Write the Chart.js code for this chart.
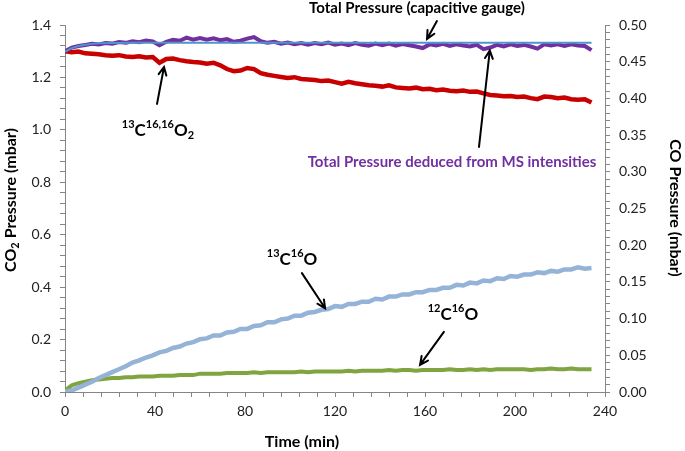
<!DOCTYPE html>
<html>
<head>
<meta charset="utf-8">
<script src="https://cdn.jsdelivr.net/npm/chart.js@4.4.1/dist/chart.umd.min.js"></script>
<style>
  html, body { margin: 0; padding: 0; background: #fff; }
  #wrap { width: 685px; height: 451px; position: relative; }
</style>
</head>
<body>
<div id="wrap"><canvas id="myChart"></canvas></div>
<script>
// time axis (min), sampled every 3 min
const timeMin = [
  0, 3, 6, 9, 12, 15, 18, 21, 24, 27,
  30, 33, 36, 39, 42, 45, 48, 51, 54, 57,
  60, 63, 66, 69, 72, 75, 78, 81, 84, 87,
  90, 93, 96, 99, 102, 105, 108, 111, 114, 117,
  120, 123, 126, 129, 132, 135, 138, 141, 144, 147,
  150, 153, 156, 159, 162, 165, 168, 171, 174, 177,
  180, 183, 186, 189, 192, 195, 198, 201, 204, 207,
  210, 213, 216, 219, 222, 225, 228, 231, 234
];

// 13C16,16O2 (left axis, mbar)
const co2Values = [
  1.300, 1.296, 1.299, 1.292, 1.290, 1.288, 1.285, 1.283, 1.285, 1.280,
  1.278, 1.281, 1.276, 1.278, 1.256, 1.270, 1.272, 1.266, 1.262, 1.259,
  1.257, 1.252, 1.256, 1.246, 1.232, 1.224, 1.226, 1.236, 1.232, 1.216,
  1.210, 1.206, 1.202, 1.198, 1.201, 1.194, 1.192, 1.190, 1.186, 1.188,
  1.182, 1.176, 1.183, 1.178, 1.174, 1.170, 1.168, 1.165, 1.170, 1.162,
  1.160, 1.158, 1.161, 1.155, 1.157, 1.151, 1.154, 1.149, 1.147, 1.150,
  1.145, 1.146, 1.139, 1.133, 1.131, 1.128, 1.129, 1.125, 1.127, 1.121,
  1.117, 1.127, 1.125, 1.121, 1.123, 1.117, 1.115, 1.117, 1.104
];

// total pressure deduced from MS intensities (left axis)
const msTotalValues = [
  1.300, 1.314, 1.320, 1.324, 1.328, 1.326, 1.331, 1.329, 1.335, 1.332,
  1.338, 1.334, 1.341, 1.337, 1.323, 1.336, 1.344, 1.340, 1.352, 1.344,
  1.350, 1.344, 1.349, 1.342, 1.346, 1.336, 1.340, 1.348, 1.354, 1.338,
  1.332, 1.336, 1.329, 1.333, 1.327, 1.331, 1.325, 1.331, 1.327, 1.333,
  1.325, 1.329, 1.323, 1.331, 1.325, 1.321, 1.329, 1.323, 1.329, 1.321,
  1.327, 1.323, 1.318, 1.312, 1.326, 1.322, 1.328, 1.320, 1.326, 1.322,
  1.318, 1.324, 1.308, 1.314, 1.324, 1.318, 1.326, 1.320, 1.324, 1.318,
  1.310, 1.326, 1.322, 1.326, 1.320, 1.326, 1.322, 1.320, 1.304
];

// 13C16O (right axis, mbar)
const co13Values = [
  0.000, 0.002, 0.006, 0.010, 0.014, 0.019, 0.023, 0.027, 0.031, 0.035,
  0.040, 0.043, 0.047, 0.050, 0.054, 0.056, 0.060, 0.062, 0.066, 0.068,
  0.072, 0.073, 0.077, 0.077, 0.081, 0.082, 0.086, 0.086, 0.090, 0.091,
  0.095, 0.095, 0.099, 0.100, 0.104, 0.104, 0.108, 0.109, 0.112, 0.113,
  0.117, 0.116, 0.120, 0.120, 0.123, 0.123, 0.127, 0.126, 0.130, 0.130,
  0.133, 0.133, 0.136, 0.136, 0.139, 0.139, 0.142, 0.142, 0.146, 0.145,
  0.149, 0.148, 0.152, 0.151, 0.155, 0.154, 0.158, 0.157, 0.160, 0.160,
  0.163, 0.162, 0.165, 0.164, 0.167, 0.167, 0.170, 0.168, 0.169
];

// 12C16O (right axis, mbar)
const co12Values = [
  0.002, 0.009, 0.012, 0.014, 0.016, 0.017, 0.018, 0.019, 0.019, 0.020,
  0.020, 0.021, 0.021, 0.021, 0.022, 0.022, 0.022, 0.023, 0.023, 0.023,
  0.025, 0.025, 0.025, 0.025, 0.026, 0.026, 0.026, 0.026, 0.027, 0.026,
  0.027, 0.027, 0.027, 0.027, 0.027, 0.028, 0.027, 0.028, 0.028, 0.028,
  0.028, 0.028, 0.029, 0.028, 0.029, 0.029, 0.029, 0.029, 0.030, 0.029,
  0.030, 0.030, 0.029, 0.030, 0.030, 0.030, 0.030, 0.031, 0.030, 0.030,
  0.031, 0.030, 0.031, 0.030, 0.031, 0.031, 0.031, 0.031, 0.031, 0.030,
  0.031, 0.031, 0.032, 0.031, 0.031, 0.032, 0.031, 0.031, 0.031
];

// capacitive gauge (left axis)
const gaugeTime = [0, 3, 6, 9, 12, 15, 21, 30, 234];
const gaugeValues = [1.298, 1.312, 1.320, 1.325, 1.328, 1.330, 1.331, 1.332, 1.332];

const FONT = 'Lato, "Open Sans", sans-serif';

const pts = (xs, ys) => xs.map((x, i) => ({ x: x, y: ys[i] }));

// text made of pieces (for super/subscripts)
function drawRich(ctx, parts, cx, cy, angle, color) {
  ctx.save();
  ctx.translate(cx, cy);
  ctx.rotate(angle);
  ctx.textBaseline = 'middle';
  ctx.fillStyle = color;
  let total = 0;
  parts.forEach(p => {
    ctx.font = 'bold ' + p.s + 'px ' + FONT;
    p.w = ctx.measureText(p.t).width;
    total += p.w;
  });
  let x = -total / 2;
  parts.forEach(p => {
    ctx.font = 'bold ' + p.s + 'px ' + FONT;
    ctx.fillText(p.t, x, p.dy || 0);
    x += p.w;
  });
  ctx.restore();
}

function arrow(ctx, x1, y1, x2, y2) {
  const a = Math.atan2(y2 - y1, x2 - x1), h = 9, sp = 0.45;
  ctx.save();
  ctx.strokeStyle = '#000';
  ctx.lineWidth = 2;
  ctx.lineCap = 'round';
  ctx.beginPath();
  ctx.moveTo(x1, y1);
  ctx.lineTo(x2, y2);
  ctx.moveTo(x2 - h * Math.cos(a - sp), y2 - h * Math.sin(a - sp));
  ctx.lineTo(x2, y2);
  ctx.lineTo(x2 - h * Math.cos(a + sp), y2 - h * Math.sin(a + sp));
  ctx.stroke();
  ctx.restore();
}

// annotations in data units: label centre, arrow tail, arrow tip
const notes = [
  { axis: 'y', at: [41.3, 0.999], from: [40.9, 1.099], to: [44.0, 1.240], color: '#000',
    parts: [{ t: '13', s: 11, dy: -6 }, { t: 'C', s: 17 }, { t: '16,16', s: 11, dy: -6 }, { t: 'O', s: 17 }, { t: '2', s: 11, dy: 5 }] },
  { axis: 'y', at: [156.4, 1.465], from: [165.3, 1.415], to: [160.9, 1.347], color: '#000',
    parts: [{ t: 'Total Pressure (capacitive gauge)', s: 15 }] },
  { axis: 'y', at: [172.0, 0.877], from: [184.0, 0.935], to: [188.8, 1.303], color: '#7030A0',
    parts: [{ t: 'Total Pressure deduced from MS intensities', s: 15 }] },
  { axis: 'y2', at: [100.9, 0.180], from: [105.3, 0.162], to: [115.6, 0.114], color: '#000',
    parts: [{ t: '13', s: 11, dy: -6 }, { t: 'C', s: 17 }, { t: '16', s: 11, dy: -6 }, { t: 'O', s: 17 }] },
  { axis: 'y2', at: [172.4, 0.105], from: [168.4, 0.082], to: [157.8, 0.037], color: '#000',
    parts: [{ t: '12', s: 11, dy: -6 }, { t: 'C', s: 17 }, { t: '16', s: 11, dy: -6 }, { t: 'O', s: 17 }] }
];

const notesPlugin = {
  id: 'notes',
  afterDraw(chart) {
    const ctx = chart.ctx, sx = chart.scales.x;
    notes.forEach(n => {
      const sy = chart.scales[n.axis];
      const X = v => sx.getPixelForValue(v), Y = v => sy.getPixelForValue(v);
      arrow(ctx, X(n.from[0]), Y(n.from[1]), X(n.to[0]), Y(n.to[1]));
      drawRich(ctx, n.parts, X(n.at[0]), Y(n.at[1]), 0, n.color);
    });
    // axis titles
    drawRich(ctx, [{ t: 'CO', s: 16 }, { t: '2', s: 11, dy: 4 }, { t: ' Pressure (mbar)', s: 16 }], 11, 200, -Math.PI / 2, '#000');
    drawRich(ctx, [{ t: 'CO Pressure (mbar)', s: 16 }], 675, 208, Math.PI / 2, '#000');
    drawRich(ctx, [{ t: 'Time (min)', s: 16 }], 302, 442, 0, '#000');
  }
};

const axisGrey = '#868686';
const tickFont = { family: FONT, size: 14 };

const ctx = document.getElementById('myChart').getContext('2d');
const myChart = new Chart(ctx, {
  type: 'line',
  data: {
    datasets: [
      { label: 'Total Pressure (capacitive gauge)', data: pts(gaugeTime, gaugeValues), yAxisID: 'y',
        borderColor: '#4F94CD', borderWidth: 2, order: 0 },
      { label: 'Total Pressure deduced from MS intensities', data: pts(timeMin, msTotalValues), yAxisID: 'y',
        borderColor: '#7030A0', borderWidth: 4, order: 1 },
      { label: '13C16,16O2', data: pts(timeMin, co2Values), yAxisID: 'y',
        borderColor: '#C80000', borderWidth: 4.5, order: 2 },
      { label: '13C16O', data: pts(timeMin, co13Values), yAxisID: 'y2',
        borderColor: '#95B3D7', borderWidth: 4.5, order: 3 },
      { label: '12C16O', data: pts(timeMin, co12Values), yAxisID: 'y2',
        borderColor: '#7FA440', borderWidth: 4, order: 4 }
    ]
  },
  options: {
    responsive: true,
    maintainAspectRatio: false,
    animation: false,
    layout: { padding: { top: 25, left: 0, right: 0, bottom: 0 } },
    elements: { point: { radius: 0 }, line: { tension: 0 } },
    plugins: { legend: { display: false }, tooltip: { enabled: false } },
    scales: {
      x: {
        type: 'linear', min: 0, max: 240,
        afterFit(s) { s.height = 59; },
        ticks: {
          stepSize: 8, autoSkip: false, maxRotation: 0, padding: 6, color: '#222', font: tickFont,
          callback: v => (Math.round(v) % 40 === 0 ? String(Math.round(v)) : '')
        },
        grid: { drawOnChartArea: false, tickLength: 5, color: axisGrey },
        border: { color: axisGrey }
      },
      y: {
        position: 'left', min: 0, max: 1.4,
        afterFit(s) { s.width = 65; },
        ticks: {
          stepSize: 0.04, autoSkip: false, padding: 9, color: '#222', font: tickFont,
          callback: v => { const k = Math.round(v * 100); return k % 20 === 0 ? (k / 100).toFixed(1) : ''; }
        },
        grid: { drawOnChartArea: false, tickLength: 5, color: axisGrey },
        border: { color: axisGrey }
      },
      y2: {
        position: 'right', min: 0, max: 0.5,
        afterFit(s) { s.width = 80; },
        ticks: {
          stepSize: 0.01, autoSkip: false, padding: 9, color: '#222', font: tickFont,
          callback: v => { const k = Math.round(v * 100); return k % 5 === 0 ? (k / 100).toFixed(2) : ''; }
        },
        grid: { drawOnChartArea: false, tickLength: 5, color: axisGrey },
        border: { color: axisGrey }
      }
    }
  },
  plugins: [notesPlugin]
});
</script>
</body>
</html>
